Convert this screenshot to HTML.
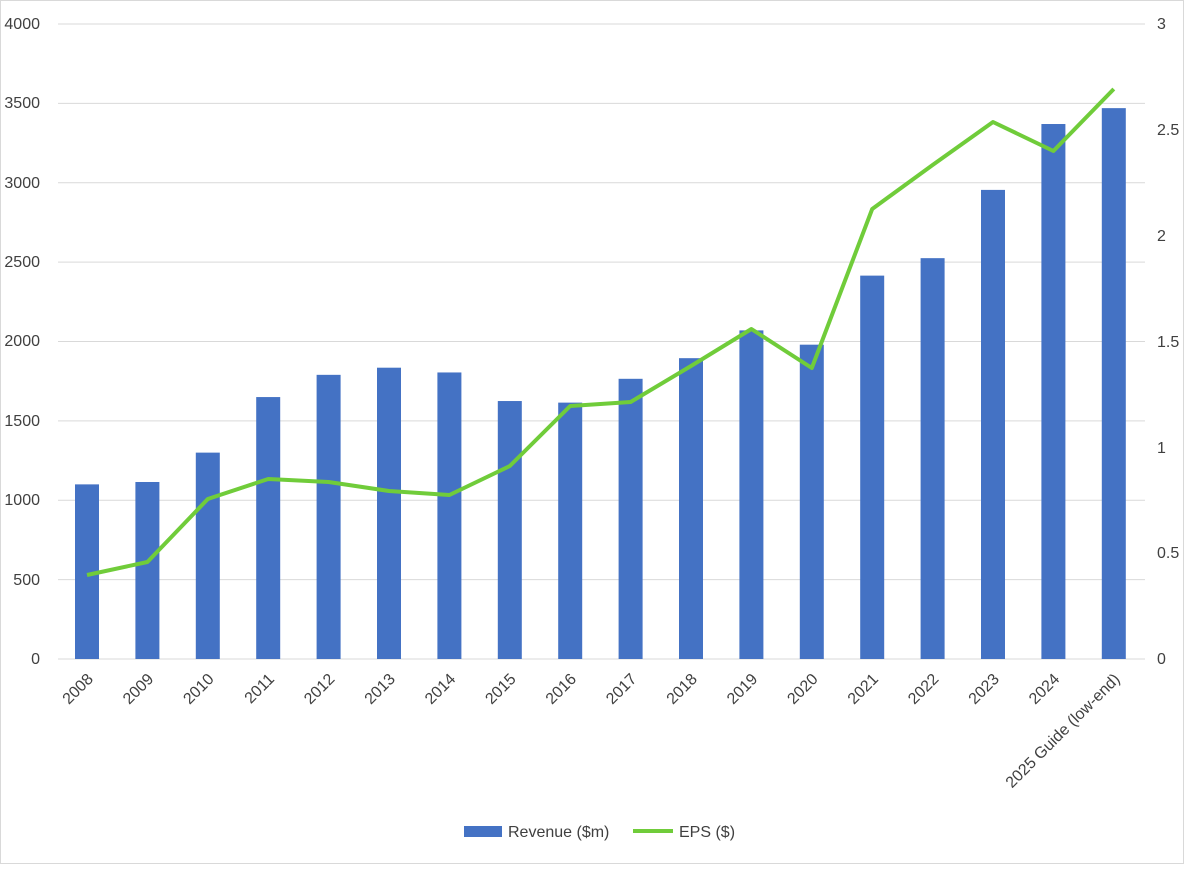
<!DOCTYPE html>
<html><head><style>body{margin:0;background:#fff}</style></head><body>
<svg width="1184" height="864" xmlns="http://www.w3.org/2000/svg" font-family="Liberation Sans, sans-serif" fill="#404040">
<rect x="0" y="0" width="1184" height="864" fill="#fff"/>
<rect x="0.5" y="0.5" width="1183" height="863" fill="none" stroke="#d9d9d9"/>
<g stroke="#d9d9d9" stroke-width="1">
<line x1="58" x2="1145" y1="24" y2="24"/><line x1="58" x2="1145" y1="103.4" y2="103.4"/>
<line x1="58" x2="1145" y1="182.8" y2="182.8"/><line x1="58" x2="1145" y1="262.1" y2="262.1"/>
<line x1="58" x2="1145" y1="341.5" y2="341.5"/><line x1="58" x2="1145" y1="420.9" y2="420.9"/>
<line x1="58" x2="1145" y1="500.3" y2="500.3"/><line x1="58" x2="1145" y1="579.6" y2="579.6"/>
<line x1="58" x2="1145" y1="659" y2="659"/>
</g>
<g font-size="16" text-anchor="end">
<text x="40" y="29">4000</text><text x="40" y="108">3500</text><text x="40" y="188">3000</text>
<text x="40" y="267">2500</text><text x="40" y="346">2000</text><text x="40" y="426">1500</text>
<text x="40" y="505">1000</text><text x="40" y="585">500</text><text x="40" y="664">0</text>
</g>
<g font-size="16" text-anchor="start">
<text x="1157" y="29">3</text><text x="1157" y="135">2.5</text><text x="1157" y="241">2</text>
<text x="1157" y="347">1.5</text><text x="1157" y="453">1</text><text x="1157" y="558">0.5</text>
<text x="1157" y="664">0</text>
</g>
<g fill="#4472c4" id="bars"></g>
<polyline id="eps" fill="none" stroke="#70cc3a" stroke-width="4" stroke-linejoin="round"/>
<g id="xl" font-size="16" text-anchor="end"></g>
<rect x="464" y="826" width="38" height="11" fill="#4472c4"/>
<text x="508" y="837" font-size="16">Revenue ($m)</text>
<line x1="633" x2="673" y1="831" y2="831" stroke="#70cc3a" stroke-width="4"/>
<text x="679" y="837" font-size="16">EPS ($)</text>
<script>
var rev=[1100,1115,1300,1650,1790,1835,1805,1625,1615,1765,1895,2070,1980,2415,2525,2955,3370,3470];
var epsY=[575,562,499,479,482,491,495,466,406,402,366,329,368,209,165,122,151,89];
var labs=["2008","2009","2010","2011","2012","2013","2014","2015","2016","2017","2018","2019","2020","2021","2022","2023","2024","2025 Guide (low-end)"];
var ns="http://www.w3.org/2000/svg",b=document.getElementById('bars'),xl=document.getElementById('xl'),pts=[];
for(var i=0;i<18;i++){var cx=87+i*60.4;var h=rev[i]*635/4000;
var r=document.createElementNS(ns,'rect');r.setAttribute('x',cx-12);r.setAttribute('y',659-h);r.setAttribute('width',24);r.setAttribute('height',h);b.appendChild(r);
pts.push(cx+','+epsY[i]);
var t=document.createElementNS(ns,'text');t.setAttribute('transform','translate('+(cx+7)+',680) rotate(-45)');t.textContent=labs[i];xl.appendChild(t);}
document.getElementById('eps').setAttribute('points',pts.join(' '));
</script>
</svg>
</body></html>
